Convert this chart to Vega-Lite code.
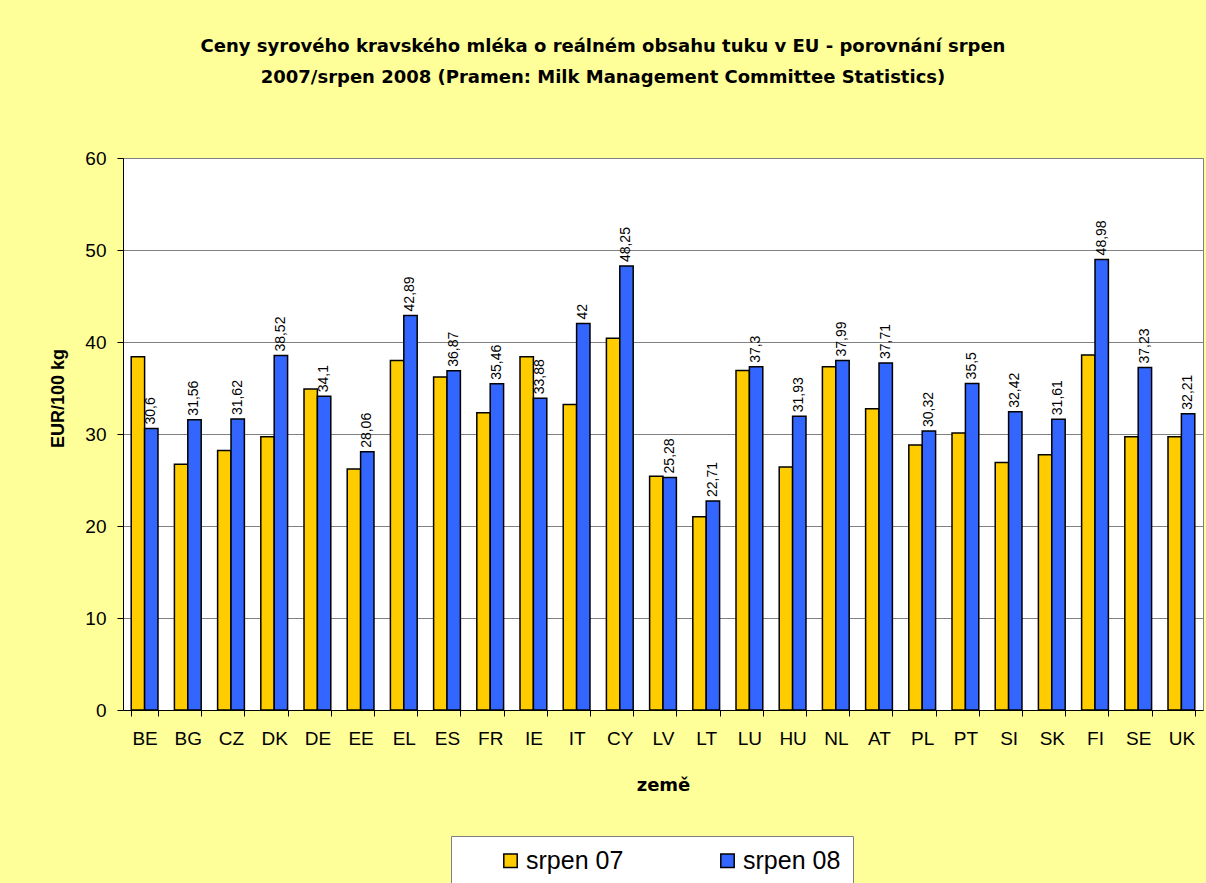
{
  "$schema": "https://vega.github.io/schema/vega-lite/v6.json",
  "width": 1080,
  "height": 552,
  "autosize": {"type": "none"},
  "padding": {"left": 123, "top": 158, "right": 3, "bottom": 173},
  "background": "#FFFF99",
  "title": {
    "text": ["Ceny syrového kravského mléka o reálném obsahu tuku v EU - porovnání srpen", "2007/srpen 2008 (Pramen: Milk Management Committee Statistics)"],
    "font": "DejaVu Sans",
    "fontSize": 18,
    "fontWeight": "bold",
    "color": "#000000",
    "anchor": "middle",
    "frame": "group",
    "dx": -60,
    "offset": 62,
    "lineHeight": 31
  },
  "config": {
    "locale": {"number": {"decimal": ",", "thousands": " ", "grouping": [3], "currency": ["", " €"]}},
    "view": {"fill": "#FFFFFF", "stroke": "#808080", "strokeWidth": 1},
    "font": "Liberation Sans"
  },
  "data": {
    "values": [
      {"country": "BE", "series": "srpen 07", "price": 38.4},
      {"country": "BE", "series": "srpen 08", "price": 30.6},
      {"country": "BG", "series": "srpen 07", "price": 26.7},
      {"country": "BG", "series": "srpen 08", "price": 31.56},
      {"country": "CZ", "series": "srpen 07", "price": 28.2},
      {"country": "CZ", "series": "srpen 08", "price": 31.62},
      {"country": "DK", "series": "srpen 07", "price": 29.7},
      {"country": "DK", "series": "srpen 08", "price": 38.52},
      {"country": "DE", "series": "srpen 07", "price": 34.9},
      {"country": "DE", "series": "srpen 08", "price": 34.1},
      {"country": "EE", "series": "srpen 07", "price": 26.2},
      {"country": "EE", "series": "srpen 08", "price": 28.06},
      {"country": "EL", "series": "srpen 07", "price": 38.0},
      {"country": "EL", "series": "srpen 08", "price": 42.89},
      {"country": "ES", "series": "srpen 07", "price": 36.2},
      {"country": "ES", "series": "srpen 08", "price": 36.87},
      {"country": "FR", "series": "srpen 07", "price": 32.3},
      {"country": "FR", "series": "srpen 08", "price": 35.46},
      {"country": "IE", "series": "srpen 07", "price": 38.4},
      {"country": "IE", "series": "srpen 08", "price": 33.88},
      {"country": "IT", "series": "srpen 07", "price": 33.2},
      {"country": "IT", "series": "srpen 08", "price": 42},
      {"country": "CY", "series": "srpen 07", "price": 40.4},
      {"country": "CY", "series": "srpen 08", "price": 48.25},
      {"country": "LV", "series": "srpen 07", "price": 25.4},
      {"country": "LV", "series": "srpen 08", "price": 25.28},
      {"country": "LT", "series": "srpen 07", "price": 21.0},
      {"country": "LT", "series": "srpen 08", "price": 22.71},
      {"country": "LU", "series": "srpen 07", "price": 36.9},
      {"country": "LU", "series": "srpen 08", "price": 37.3},
      {"country": "HU", "series": "srpen 07", "price": 26.4},
      {"country": "HU", "series": "srpen 08", "price": 31.93},
      {"country": "NL", "series": "srpen 07", "price": 37.3},
      {"country": "NL", "series": "srpen 08", "price": 37.99},
      {"country": "AT", "series": "srpen 07", "price": 32.75},
      {"country": "AT", "series": "srpen 08", "price": 37.71},
      {"country": "PL", "series": "srpen 07", "price": 28.8},
      {"country": "PL", "series": "srpen 08", "price": 30.32},
      {"country": "PT", "series": "srpen 07", "price": 30.1},
      {"country": "PT", "series": "srpen 08", "price": 35.5},
      {"country": "SI", "series": "srpen 07", "price": 26.9},
      {"country": "SI", "series": "srpen 08", "price": 32.42},
      {"country": "SK", "series": "srpen 07", "price": 27.75},
      {"country": "SK", "series": "srpen 08", "price": 31.61},
      {"country": "FI", "series": "srpen 07", "price": 38.6},
      {"country": "FI", "series": "srpen 08", "price": 48.98},
      {"country": "SE", "series": "srpen 07", "price": 29.7},
      {"country": "SE", "series": "srpen 08", "price": 37.23},
      {"country": "UK", "series": "srpen 07", "price": 29.7},
      {"country": "UK", "series": "srpen 08", "price": 32.21}
    ]
  },
  "encoding": {
    "x": {
      "field": "country",
      "type": "nominal",
      "sort": null,
      "scale": {"paddingInner": 0.38, "paddingOuter": 0.19},
      "axis": {
        "title": "země",
        "titleFont": "DejaVu Sans",
        "titleFontSize": 18,
        "titleFontWeight": "bold",
        "titleColor": "#000000",
        "titlePadding": 28,
        "labelAngle": 0,
        "labelFont": "Liberation Sans",
        "labelFontSize": 19,
        "labelColor": "#000000",
        "labelPadding": 13,
        "tickBand": "extent",
        "tickSize": 6,
        "tickColor": "#000000",
        "domainColor": "#000000",
        "grid": false
      }
    },
    "xOffset": {"field": "series", "type": "nominal", "scale": {"domain": ["srpen 07", "srpen 08"]}},
    "y": {
      "field": "price",
      "type": "quantitative",
      "scale": {"domain": [0, 60], "nice": false},
      "axis": {
        "title": "EUR/100 kg",
        "titleFont": "Liberation Sans",
        "titleFontSize": 18,
        "titleFontWeight": "bold",
        "titleColor": "#000000",
        "titleX": -65,
        "titleY": 240,
        "titleAngle": -90,
        "titleAlign": "center",
        "titleBaseline": "middle",
        "values": [0, 10, 20, 30, 40, 50, 60],
        "labelFont": "Liberation Sans",
        "labelFontSize": 19,
        "labelColor": "#000000",
        "labelPadding": 11,
        "tickSize": 6,
        "tickColor": "#000000",
        "domainColor": "#000000",
        "gridColor": "#808080",
        "gridWidth": 1
      }
    }
  },
  "layer": [
    {
      "mark": {"type": "bar", "stroke": "#000000", "strokeWidth": 1.5},
      "encoding": {
        "fill": {
          "field": "series",
          "type": "nominal",
          "scale": {"domain": ["srpen 07", "srpen 08"], "range": ["#FFCC00", "#3366FF"]},
          "legend": {
            "title": null,
            "orient": "none",
            "legendX": 328,
            "legendY": 678,
            "direction": "horizontal",
            "columns": 2,
            "fillColor": "#FFFFFF",
            "strokeColor": "#808080",
            "padding": 12,
            "symbolOffset": 35,
            "columnPadding": 56,
            "symbolType": "square",
            "symbolSize": 180,
            "symbolStrokeColor": "#000000",
            "symbolStrokeWidth": 1.5,
            "labelFont": "Liberation Sans",
            "labelFontSize": 25,
            "labelColor": "#000000",
            "labelOffset": 3,
            "labelLimit": 400,
            "labelExpr": "datum.value == 'srpen 08' ? 'srpen 08\u2003\u2003' : datum.label"
          }
        }
      }
    },
    {
      "transform": [{"filter": "datum.series == 'srpen 08'"}],
      "mark": {"type": "text", "angle": -90, "align": "left", "baseline": "middle", "dx": 4, "font": "Liberation Sans", "fontSize": 14, "color": "#000000"},
      "encoding": {
        "text": {"field": "price", "type": "quantitative", "format": ".4~g"}
      }
    }
  ]
}
